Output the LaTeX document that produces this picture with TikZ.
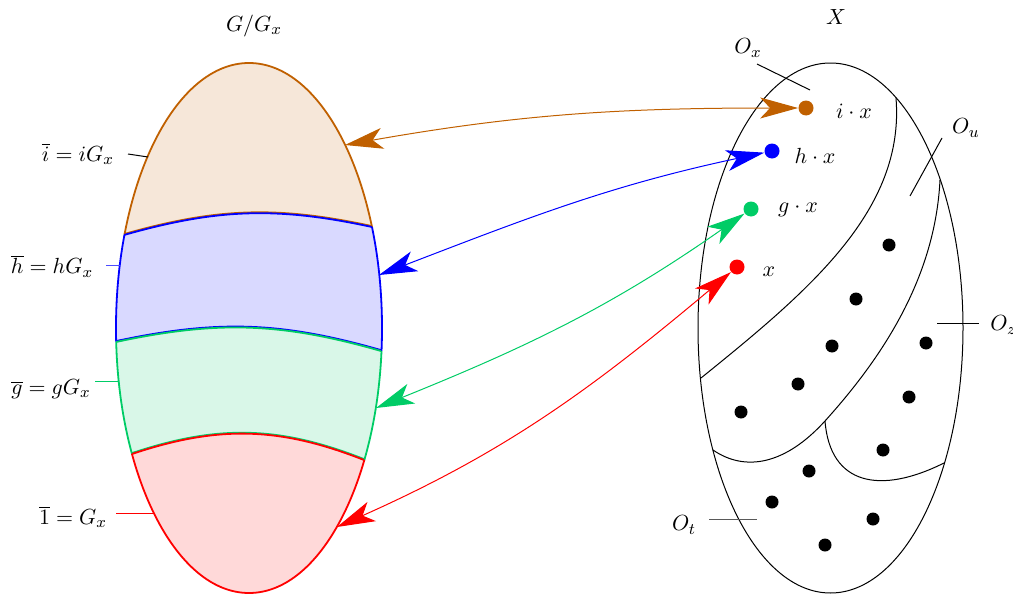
\documentclass[11pt,tikz,border=0pt]{standalone}
\usetikzlibrary{arrows.meta}
\definecolor{cI}{RGB}{192,96,0}
\definecolor{cH}{RGB}{0,0,255}
\definecolor{cG}{RGB}{0,204,102}
\definecolor{cR}{RGB}{255,0,0}
\begin{document}
\begin{tikzpicture}[x=0.5pt,y=-0.5pt,
  dotn/.style={circle,fill,inner sep=0pt,minimum size=7.5pt},
  bdot/.style={circle,fill=black,inner sep=0pt,minimum size=6.5pt},
  conn/.style={{Stealth[length=19pt,width=10.5pt,inset=5pt]}-{Stealth[length=19pt,width=10.5pt,inset=5pt]},line width=0.5pt},
  bandline/.style={line width=0.9pt},
  thinl/.style={line width=0.5pt},
  lbl/.style={inner sep=0pt}]
\useasboundingbox (0,0) rectangle (1013,594);

% ---------- left ellipse G/G_x ----------
\coordinate (L1) at (124,235);
\coordinate (R1) at (372,227);
\coordinate (L2) at (116,342);
\coordinate (R2) at (381,351);
\coordinate (L3) at (132,454);
\coordinate (R3) at (364,460);

\begin{scope}
  \clip (249,328) ellipse [x radius=133, y radius=265];
  \fill[cI!15] (L1) to[bend left=14] (R1) -- (430,227) -- (430,30) -- (70,30) -- (70,235) -- cycle;
  \fill[cH!15] (L1) to[bend left=14] (R1) -- (430,227) -- (430,351) -- (R2) to[bend right=14] (L2) -- (70,342) -- (70,235) -- cycle;
  \fill[cG!15] (L2) to[bend left=14] (R2) -- (430,351) -- (430,460) -- (R3) to[bend right=20] (L3) -- (70,454) -- (70,342) -- cycle;
  \fill[cR!15] (L3) to[bend left=20] (R3) -- (430,460) -- (430,620) -- (70,620) -- (70,454) -- cycle;
\end{scope}

\begin{scope}
  \clip (L1) to[bend left=14] (R1) -- (430,227) -- (430,30) -- (70,30) -- (70,235) -- cycle;
  \draw[cI,bandline] (249,328) ellipse [x radius=133, y radius=265];
\end{scope}
\begin{scope}
  \clip (L1) to[bend left=14] (R1) -- (430,227) -- (430,351) -- (R2) to[bend right=14] (L2) -- (70,342) -- (70,235) -- cycle;
  \draw[cH,bandline] (249,328) ellipse [x radius=133, y radius=265];
\end{scope}
\begin{scope}
  \clip (L2) to[bend left=14] (R2) -- (430,351) -- (430,460) -- (R3) to[bend right=20] (L3) -- (70,454) -- (70,342) -- cycle;
  \draw[cG,bandline] (249,328) ellipse [x radius=133, y radius=265];
\end{scope}
\begin{scope}
  \clip (L3) to[bend left=20] (R3) -- (430,460) -- (430,620) -- (70,620) -- (70,454) -- cycle;
  \draw[cR,bandline] (249,328) ellipse [x radius=133, y radius=265];
\end{scope}

\draw[cI,bandline] ([yshift=0.45pt]L1) to[bend left=14] ([yshift=0.45pt]R1);
\draw[cH,bandline] (L1) to[bend left=14] (R1);
\draw[cH,bandline] ([yshift=0.45pt]L2) to[bend left=14] ([yshift=0.45pt]R2);
\draw[cG,bandline] (L2) to[bend left=14] (R2);
\draw[cG,bandline] ([yshift=0.45pt]L3) to[bend left=20] ([yshift=0.45pt]R3);
\draw[cR,bandline] (L3) to[bend left=20] (R3);

% labels left
\node[lbl] (tGG) at (254,26) {$G/G_x$};
\node[lbl] (lI) at (78,154) {$\overline{i}=iG_x$};
\node[lbl] (lH) at (52,266) {$\overline{h}=hG_x$};
\node[lbl] (lG) at (51,389) {$\overline{g}=gG_x$};
\node[lbl] (l1) at (73,517) {$\overline{1}=G_x$};
\draw[thinl] (128,154) -- (148,157);
\draw[thinl,cH!70] (106,265) -- (120,265);
\draw[thinl,cG] (95,381) -- (118,381);
\draw[thinl,cR] (116,513) -- (153,513);

% ---------- right ellipse X ----------
\draw[thinl] (830.5,328) ellipse [x radius=132.5, y radius=265];
\draw[thinl] (896,98) .. controls (905,210) and (810,290) .. (701,378);
\draw[thinl] (940,180) .. controls (935,280) and (880,360) .. (825,421)
             .. controls (785,465) and (745,472) .. (713,450);
\draw[thinl] (825,421) .. controls (830,485) and (880,495) .. (944,463);

\node[lbl] (tX) at (836,17) {$X$};
\node[lbl] (oX) at (748,48) {$O_x$};
\node[lbl] (oU) at (966,128) {$O_u$};
\node[lbl,anchor=west] (oZ) at (990,325) {$O_z$};
\node[lbl] (oT) at (684,525) {$O_t$};
\draw[thinl] (757,64) -- (810,90);
\draw[thinl] (942,138) -- (910,196);
\draw[thinl] (937,323) -- (979,323);
\draw[thinl,black!65] (709,519) -- (757,519);

% black points
\foreach \p/\q in {889/245,856/299,832/346,798/384,741/412,926/343,909/397,883/450,809/471,772/502,873/519,825/545}
  \node[bdot] at (\p,\q) {};

% coloured points
\node[dotn,cI] (dI) at (806,108) {};
\node[dotn,cH] (dH) at (772,151) {};
\node[dotn,cG] (dG) at (751,209) {};
\node[dotn,cR] (dR) at (737,267) {};
\node[lbl] (tI) at (854,111) {$i\cdot x$};
\node[lbl] (tH) at (815,156) {$h\cdot x$};
\node[lbl] (tG) at (798,210) {$g\cdot x$};
\node[lbl] (tR) at (769,272) {$x$};

% arrows
\coordinate (aI) at (345,145);
\coordinate (aH) at (379,275);
\coordinate (aG) at (376,408);
\coordinate (aR) at (337,527);
\draw[conn,cI] (aI) to[out=10,in=180] (dI);
\draw[conn,cH] (aH) to[out=21,in=192] (dH);
\draw[conn,cG] (aG) to[out=22,in=215] (dG);
\draw[conn,cR] (aR) to[out=24,in=220] (dR);
\end{tikzpicture}
\end{document}
